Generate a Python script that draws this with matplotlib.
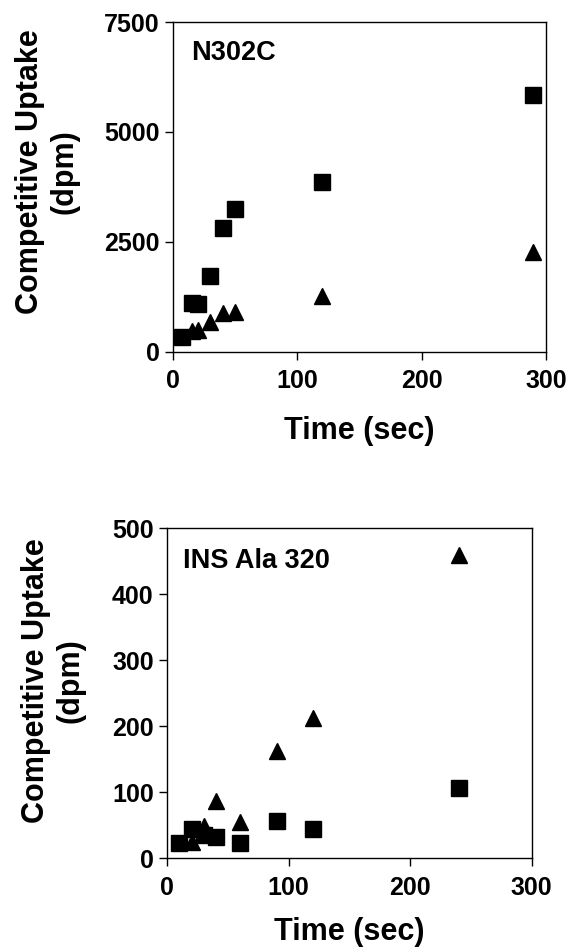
import matplotlib
matplotlib.use('Agg')
import matplotlib.pyplot as plt

plt.rcParams['font.family'] = ['Liberation Sans', 'DejaVu Sans']
plt.rcParams['font.weight'] = 'bold'

# N302C uptake (dpm) vs time (sec)
n302c_sq_time = [7, 15, 20, 30, 40, 50, 120, 290]
n302c_sq_dpm = [335, 1110, 1090, 1720, 2820, 3240, 3860, 5850]
n302c_tri_time = [15, 20, 30, 40, 50, 120, 290]
n302c_tri_dpm = [470, 480, 680, 870, 910, 1260, 2255]

# INS Ala 320 uptake (dpm) vs time (sec)
ins_sq_time = [10, 20, 30, 40, 60, 90, 120, 240]
ins_sq_dpm = [24, 44, 35, 33, 24, 57, 44, 106]
ins_tri_time = [20, 30, 40, 60, 90, 120, 240]
ins_tri_dpm = [25, 49, 87, 55, 162, 212, 460]

panels = [
    dict(name='N302C', rect=[0.303, 0.6296, 0.653, 0.3472],
         sq=(n302c_sq_time, n302c_sq_dpm), tri=(n302c_tri_time, n302c_tri_dpm),
         ylim=(0, 7500), yticks=[0, 2500, 5000, 7500], xpad=16,
         label_xy=(-0.338, 0.545), name_xy=(0.049, 0.945)),
    dict(name='INS Ala 320', rect=[0.293, 0.0954, 0.638, 0.3479],
         sq=(ins_sq_time, ins_sq_dpm), tri=(ins_tri_time, ins_tri_dpm),
         ylim=(0, 500), yticks=[0, 100, 200, 300, 400, 500], xpad=12,
         label_xy=(-0.314, 0.54), name_xy=(0.044, 0.94)),
]

fig = plt.figure(figsize=(5.71, 9.49), dpi=100)

for p in panels:
    ax = fig.add_axes(p['rect'])
    ax.plot(*p['tri'], linestyle='none', marker='^', markersize=12, color='black', clip_on=False)
    ax.plot(*p['sq'], linestyle='none', marker='s', markersize=12, color='black', clip_on=False)
    ax.set_xlim(0, 300)
    ax.set_ylim(*p['ylim'])
    ax.set_xticks([0, 100, 200, 300])
    ax.set_yticks(p['yticks'])
    ax.tick_params(direction='out', length=5.8, width=1.0, labelsize=18)
    ax.tick_params(axis='x', pad=7)
    ax.tick_params(axis='y', pad=4)
    for s in ax.spines.values():
        s.set_linewidth(1.0)
    ax.set_xlabel('Time (sec)', fontsize=22, fontweight='bold', labelpad=p['xpad'])
    ax.set_ylabel('Competitive Uptake\n(dpm)', fontsize=22, fontweight='bold',
                  va='center', ha='center', multialignment='center')
    ax.yaxis.set_label_coords(*p['label_xy'])
    ax.text(*p['name_xy'], p['name'], transform=ax.transAxes, fontsize=19.5,
            fontweight='bold', ha='left', va='top')

fig.savefig('out.png', dpi=100)
